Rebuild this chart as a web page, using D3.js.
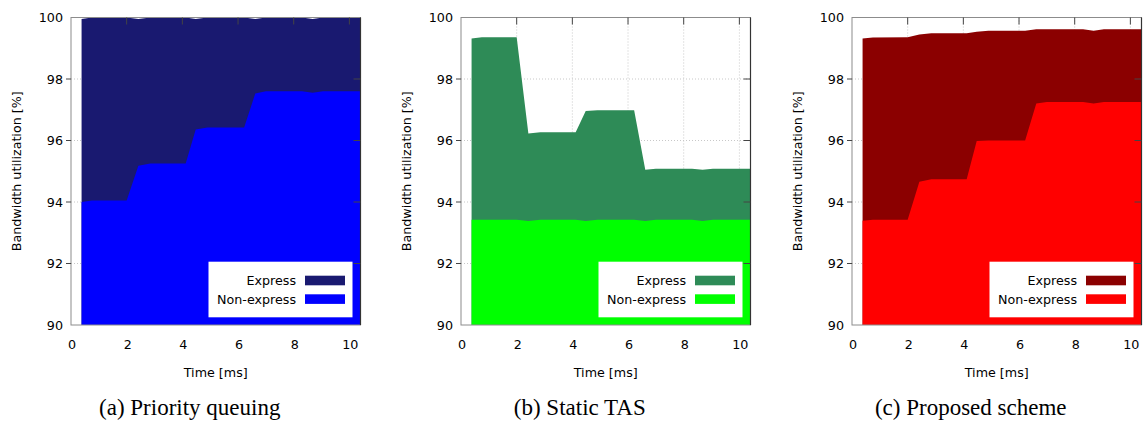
<!DOCTYPE html>
<html>
<head>
  <meta charset="utf-8">
  <title>Bandwidth utilization</title>
  <script src="https://cdn.jsdelivr.net/npm/d3@7"></script>
  <style type="text/css">
    body {
      margin: 0;
      background: #fff;
    }
    svg text {
      font-family: "DejaVu Sans", Verdana, sans-serif;
      font-size: 12.7px;
      fill: #000;
    }
    svg text.caption {
      font-family: "Liberation Serif", "Times New Roman", serif;
      font-size: 23px;
    }
    .grid line {
      stroke: #c8c8c8;
      stroke-width: 1;
      stroke-dasharray: 1,2;
    }
  </style>
</head>
<body>
  <svg id="chart" width="1143" height="423"></svg>
  <script type="text/javascript">

  // sample times [ms]
  const times = [0.38, 0.75, 2.0, 2.42, 2.85, 4.12, 4.48, 4.9, 6.22, 6.62, 7.0, 8.3, 8.68, 9.05, 10.4];

  // top edge of the stack (express on top of non-express), in %
  const prioExpress = [99.95, 100, 100, 99.95, 100, 100, 99.95, 100, 100, 99.95, 100, 100, 99.95, 100, 100];
  const prioNonExpress = [94.0, 94.05, 94.05, 95.18, 95.25, 95.25, 96.36, 96.42, 96.42, 97.53, 97.6, 97.6, 97.55, 97.6, 97.6];

  const tasExpress = [99.32, 99.36, 99.36, 96.23, 96.27, 96.27, 96.96, 96.98, 96.98, 95.05, 95.08, 95.08, 95.05, 95.08, 95.08];
  const tasNonExpress = [93.42, 93.42, 93.42, 93.38, 93.42, 93.42, 93.38, 93.42, 93.42, 93.38, 93.42, 93.42, 93.38, 93.42, 93.42];

  const propExpress = [99.32, 99.35, 99.36, 99.45, 99.49, 99.49, 99.54, 99.57, 99.57, 99.62, 99.62, 99.62, 99.57, 99.62, 99.62];
  const propNonExpress = [93.39, 93.42, 93.42, 94.66, 94.74, 94.74, 95.98, 96.0, 96.0, 97.2, 97.25, 97.25, 97.2, 97.25, 97.25];

  const xTicks = [0, 2, 4, 6, 8, 10];
  const yTicks = [90, 92, 94, 96, 98, 100];
  const seriesNames = ['Express', 'Non-express'];

  const panels = [
    {left: 71, caption: '(a) Priority queuing', express: prioExpress, nonExpress: prioNonExpress,
     colors: ['#191970', '#0000ff']},
    {left: 461, caption: '(b) Static TAS', express: tasExpress, nonExpress: tasNonExpress,
     colors: ['#2e8b57', '#00ff00']},
    {left: 852, caption: '(c) Proposed scheme', express: propExpress, nonExpress: propNonExpress,
     colors: ['#8b0000', '#ff0000']}
  ];

  const W = 289.5, H = 307.5, TOP = 17.5;
  const svg = d3.select('#chart');

  panels.forEach(drawPanel);

  function drawPanel(p) {
    const x = d3.scaleLinear().domain([0, 10.4]).range([0, W]);
    const y = d3.scaleLinear().domain([90, 100]).range([H, 0]);

    const g = svg.append('g').attr('transform', `translate(${p.left},${TOP})`);

    // grid
    const grid = g.append('g').attr('class', 'grid');
    grid.selectAll('line.gx').data(xTicks.slice(1)).enter().append('line')
      .attr('x1', d => x(d)).attr('x2', d => x(d)).attr('y1', 0).attr('y2', H);
    grid.selectAll('line.gy').data(yTicks.slice(1, -1)).enter().append('line')
      .attr('x1', 0).attr('x2', W).attr('y1', d => y(d)).attr('y2', d => y(d));

    const area = d3.area()
      .x((d, i) => x(times[i]))
      .y0(y(90))
      .y1(d => y(d));

    g.append('path').datum(p.express).attr('d', area).attr('fill', p.colors[0]);
    g.append('path').datum(p.nonExpress).attr('d', area).attr('fill', p.colors[1]);

    // border
    g.append('rect').attr('x', 0).attr('y', 0).attr('width', W).attr('height', H)
      .attr('fill', 'none').attr('stroke', '#8c8c8c').attr('stroke-width', 1);
    g.append('line').attr('x1', W).attr('x2', W).attr('y1', 0).attr('y2', H)
      .attr('stroke', '#333').attr('stroke-width', 1.2);

    // mirror ticks (top, right) and outer left ticks
    g.selectAll('line.tt').data(xTicks.slice(1)).enter().append('line')
      .attr('x1', d => x(d)).attr('x2', d => x(d)).attr('y1', 0).attr('y2', 7)
      .attr('stroke', '#444');
    g.selectAll('line.tr').data(yTicks.slice(1, -1)).enter().append('line')
      .attr('x1', W - 7).attr('x2', W).attr('y1', d => y(d)).attr('y2', d => y(d))
      .attr('stroke', '#444');
    g.selectAll('line.tl').data(yTicks.slice(1, -1)).enter().append('line')
      .attr('x1', -5).attr('x2', 0).attr('y1', d => y(d)).attr('y2', d => y(d))
      .attr('stroke', '#444');

    // tick labels
    g.selectAll('text.yl').data(yTicks).enter().append('text')
      .attr('x', -8).attr('y', d => y(d) + 4.6)
      .attr('text-anchor', 'end').text(d => d);
    g.selectAll('text.xl').data(xTicks).enter().append('text')
      .attr('x', d => x(d) + 1).attr('y', H + 23.5)
      .attr('text-anchor', 'middle').text(d => d);

    // axis titles
    g.append('text').attr('text-anchor', 'middle')
      .attr('transform', `translate(${-50},${H / 2}) rotate(-90)`)
      .text('Bandwidth utilization [%]');
    g.append('text').attr('x', W / 2).attr('y', H + 51.5)
      .attr('text-anchor', 'middle').text('Time [ms]');

    // legend
    const lg = g.append('g').attr('transform', `translate(137.5,${261.7 - TOP})`);
    lg.append('rect').attr('width', 144).attr('height', 55.6).attr('fill', '#fff');
    seriesNames.forEach((name, i) => {
      const yy = 14 + i * 18.6;
      lg.append('text').attr('x', 87.5).attr('y', yy + 9.3)
        .attr('text-anchor', 'end').text(name);
      lg.append('rect').attr('x', 96.5).attr('y', yy).attr('width', 40).attr('height', 9.6)
        .attr('fill', p.colors[i]);
    });

    // caption
    svg.append('text').attr('class', 'caption')
      .attr('x', p.left + W / 2 - 26).attr('y', 414.5)
      .attr('text-anchor', 'middle').text(p.caption);
  }
  </script>
</body>
</html>
